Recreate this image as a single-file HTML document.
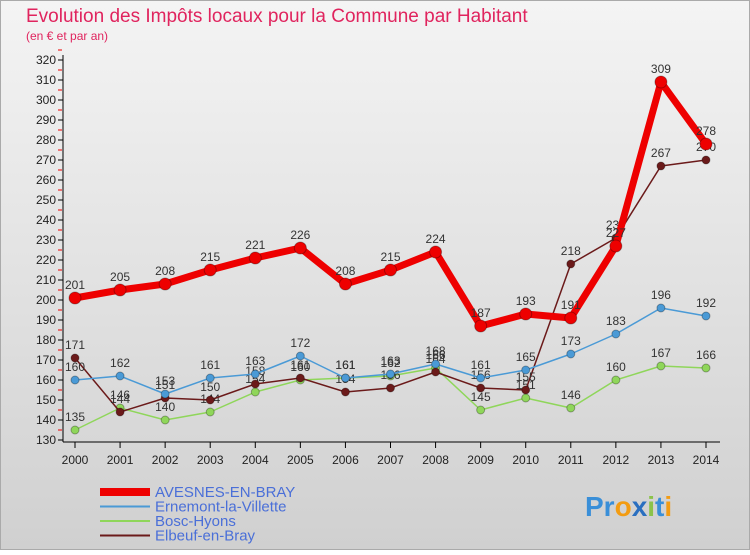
<!DOCTYPE html>
<html><head><meta charset="utf-8"><style>
body{margin:0;width:750px;height:550px;overflow:hidden;font-family:"Liberation Sans",sans-serif}
</style></head><body>
<svg width="750" height="550" xmlns="http://www.w3.org/2000/svg">
<defs><linearGradient id="bg" x1="0" y1="0" x2="0" y2="1"><stop offset="0" stop-color="#f4f4f4"/><stop offset="1" stop-color="#d0d0d0"/></linearGradient></defs>
<rect x="0.5" y="0.5" width="749" height="549" fill="url(#bg)" stroke="#aaa"/>
<text x="26" y="22" font-size="19" fill="#e0245e">Evolution des Impôts locaux pour la Commune par Habitant</text>
<text x="26" y="40" font-size="12" fill="#e0245e">(en € et par an)</text>
<g id="axes"></g><g id="series"></g>
<g id="legend"></g>
<text x="585" y="516" font-size="28" font-weight="bold" fill="#3a8fd8">Pr<tspan fill="#f39c12">o</tspan><tspan fill="#2a6fc0">x</tspan><tspan fill="#8bc34a">i</tspan>t<tspan fill="#f39c12">i</tspan></text>
</svg>
<script>
const years=[2000,2001,2002,2003,2004,2005,2006,2007,2008,2009,2010,2011,2012,2013,2014];
const avesnes=[201,205,208,215,221,226,208,215,224,187,193,191,227,309,278];
const ernemont=[160,162,153,161,163,172,161,163,168,161,165,173,183,196,192];
const bosc=[135,146,140,144,154,160,161,162,166,145,151,146,160,167,166];
const elbeuf=[171,144,151,150,158,161,154,156,164,156,155,218,231,267,270];
const yTicks=[130,140,150,160,170,180,190,200,210,220,230,240,250,260,270,280,290,300,310,320];
const NS="http://www.w3.org/2000/svg";
const X=i=>75+i*(706-75)/(years.length-1);
const Y=v=>440-(v-130)*2;
function mk(t,a,p){const e=document.createElementNS(NS,t);for(const k in a)e.setAttribute(k,a[k]);p.appendChild(e);return e;}
const ax=document.getElementById('axes');
let l=mk('line',{x1:63,y1:55,x2:63,y2:442,stroke:'#000'},ax);


l=mk('line',{x1:63,y1:442,x2:720,y2:442,stroke:'#000'},ax);


yTicks.forEach(v=>{
 mk('line',{x1:58,y1:Y(v),x2:63,y2:Y(v),stroke:'#000'},ax);
 mk('line',{x1:58,y1:Y(v+5),x2:62,y2:Y(v+5),stroke:'#e00'},ax);
 const t=mk('text',{x:56,y:Y(v)+4,'font-size':12,'text-anchor':'end',fill:'#222'},ax);t.textContent=v;
 
 
});
years.forEach((y,i)=>{
 mk('line',{x1:X(i),y1:442,x2:X(i),y2:448,stroke:'#000'},ax);
 const t=mk('text',{x:X(i),y:464,'font-size':12,'text-anchor':'middle',fill:'#222'},ax);t.textContent=y;
 
 
});
const sg=document.getElementById('series');
function series(vals,color,w,r,name){
 const g=mk('g',{},sg);
 
 
 mk('polyline',{points:vals.map((v,i)=>X(i)+','+Y(v)).join(' '),fill:'none',stroke:color,'stroke-width':w,'stroke-linejoin':'round'},g);
 vals.forEach((v,i)=>{
  const c=mk('circle',{cx:X(i),cy:Y(v),r:r,fill:color,stroke:'rgba(0,0,0,0.3)'},g);
  
  
  const t=mk('text',{x:X(i),y:Y(v)-9,'font-size':12,'text-anchor':'middle',fill:'#333'},g);t.textContent=v;
  
  
 });
}
series(bosc,'#8fd65a',1.5,4,'bosc-hyons-series');
series(elbeuf,'#6b1a1a',1.5,4,'elbeuf-series');
series(ernemont,'#4a9ad6',1.5,4,'ernemont-series');
series(avesnes,'#ee0000',7,6,'avesnes-series');
const lg=document.getElementById('legend');
const leg=[['AVESNES-EN-BRAY','#ee0000',8],['Ernemont-la-Villette','#4a9ad6',2],['Bosc-Hyons','#8fd65a',2],['Elbeuf-en-Bray','#6b1a1a',2]];
leg.forEach((d,i)=>{
 const g=mk('g',{},lg);
 
 
 mk('line',{x1:100,y1:492+i*14.5,x2:150,y2:492+i*14.5,stroke:d[1],'stroke-width':d[2]},g);
 const t=mk('text',{x:155,y:497+i*14.5,'font-size':15,fill:'#4a6fd8'},g);t.textContent=d[0];
});
</script>
</body></html>
